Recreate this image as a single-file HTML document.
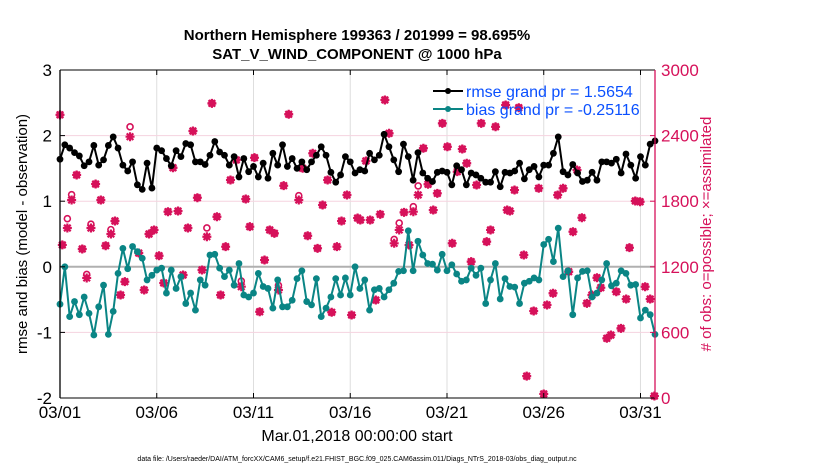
<!DOCTYPE html>
<html><head><meta charset="utf-8"><style>
body{margin:0;background:#fff;width:830px;height:470px;overflow:hidden}
svg{display:block;font-family:"Liberation Sans",Arial,sans-serif}
</style></head><body>
<svg id="chart" width="830" height="470" viewBox="0 0 830 470">
<g id="grid"></g>
<g id="obs"></g>
<g id="series"></g>
<g id="axes"></g>
<text x="357" y="40" text-anchor="middle" font-size="15" font-weight="bold">Northern Hemisphere 199363 / 201999 = 98.695%</text>
<text x="357" y="59" text-anchor="middle" font-size="15" font-weight="bold">SAT_V_WIND_COMPONENT @ 1000 hPa</text>
<text transform="translate(27,234) rotate(-90)" text-anchor="middle" font-size="15">rmse and bias (model - observation)</text>
<text transform="translate(711,234) rotate(-90)" text-anchor="middle" font-size="15" fill="#d6115a"># of obs: o=possible; ×=assimilated</text>
<text x="357" y="441" text-anchor="middle" font-size="16">Mar.01,2018 00:00:00 start</text>
<text x="357" y="461" text-anchor="middle" font-size="7">data file: /Users/raeder/DAI/ATM_forcXX/CAM6_setup/f.e21.FHIST_BGC.f09_025.CAM6assim.011/Diags_NTrS_2018-03/obs_diag_output.nc</text>
<g>
<line x1="433" y1="91" x2="463" y2="91" stroke="#000" stroke-width="2"/><circle cx="448" cy="91" r="3" fill="#000"/>
<text x="466" y="97" font-size="16" fill="#0a50ff">rmse grand pr = 1.5654</text>
<line x1="433" y1="109" x2="463" y2="109" stroke="#0a8585" stroke-width="2"/><circle cx="448" cy="109" r="3" fill="#0a8585"/>
<text x="466" y="115" font-size="16" fill="#0a50ff">bias grand pr = -0.25116</text>
</g>
</svg>
<script>
const xTickLabels=["03/01","03/06","03/11","03/16","03/21","03/26","03/31"];
const xTickDays=[0,5,10,15,20,25,30];
const leftTicks=[3,2,1,0,-1,-2];
const rightTicks=[0,600,1200,1800,2400,3000];
const rmse=[1.64,1.86,1.81,1.74,1.69,1.54,1.60,1.85,1.55,1.63,1.85,1.98,1.81,1.55,1.46,1.60,1.25,1.18,1.58,1.20,1.81,1.77,1.65,1.54,1.77,1.68,1.88,1.86,1.60,1.60,1.56,1.70,
1.91,1.75,1.70,1.55,1.68,1.37,1.65,1.45,1.53,1.37,1.58,1.35,1.73,1.55,1.86,1.53,1.65,1.50,1.60,1.48,1.60,1.70,1.83,1.70,1.44,1.29,1.40,1.68,1.60,1.43,1.48,
1.46,1.73,1.63,1.70,2.02,1.83,1.63,1.45,1.87,1.68,1.32,1.74,1.43,1.35,1.30,1.44,1.46,1.44,1.25,1.54,1.48,1.25,1.43,1.40,1.35,1.29,1.29,1.45,1.22,1.44,
1.43,1.46,1.58,1.34,1.48,1.53,1.37,1.55,1.55,1.73,1.98,1.45,1.40,1.56,1.43,1.30,1.32,1.44,1.32,1.60,1.60,1.58,1.64,1.43,1.72,1.55,1.35,1.68,1.55,1.87,1.92];
const bias=[-0.57,0.0,-0.76,-0.53,-0.73,-0.46,-0.71,-1.04,-0.61,-0.28,-1.03,-0.68,-0.10,0.28,-0.03,0.31,0.23,0.13,-0.20,-0.13,-0.05,-0.02,-0.40,-0.05,-0.33,-0.15,-0.56,-0.40,-0.66,-0.20,-0.28,0.18,
0.19,-0.02,-0.15,-0.05,-0.28,0.05,-0.43,-0.46,-0.40,-0.10,-0.30,-0.33,-0.63,-0.20,-0.61,-0.61,-0.51,-0.18,-0.06,-0.53,-0.58,-0.18,-0.76,-0.63,-0.46,-0.18,-0.43,-0.17,-0.43,0.0,-0.33,
-0.20,-0.66,-0.35,-0.33,-0.46,-0.35,-0.25,-0.07,-0.06,0.55,-0.06,0.39,0.18,0.05,0.04,-0.05,0.19,-0.06,0.03,-0.11,-0.22,-0.20,-0.02,-0.13,-0.02,-0.56,-0.20,0.05,-0.49,-0.18,-0.30,
-0.31,-0.56,-0.25,-0.22,-0.17,-0.20,0.34,0.42,0.08,0.59,-0.15,-0.06,-0.73,-0.17,-0.07,-0.06,-0.46,-0.40,-0.20,0.05,-0.29,-0.25,-0.06,-0.10,-0.28,-0.27,-0.78,-0.66,-0.73,-1.03];
const obsDay=[0,0.12,0.38,0.6,0.86,1.15,1.38,1.6,1.84,2.11,2.36,2.63,2.84,3.13,3.35,3.62,4.07,4.35,4.6,4.86,5.12,5.36,5.58,5.84,6.1,6.36,6.61,6.87,7.1,7.34,7.59,7.85,8.11,8.3,8.56,8.81,9.11,9.37,9.6,9.81,10.05,10.32,10.57,10.84,11.08,11.29,11.56,11.82,12.34,12.54,12.8,13.06,13.31,13.57,13.83,14.04,14.31,14.55,14.83,15.07,15.38,15.52,15.81,16.03,16.32,16.55,16.79,17.01,17.27,17.53,17.78,18.04,18.26,18.51,18.78,19.02,19.29,19.5,19.76,20.02,20.27,20.53,20.79,21.02,21.25,21.53,21.77,22.05,22.25,22.51,23.03,23.11,23.25,23.49,23.71,23.97,24.12,24.48,24.74,25.0,25.17,25.48,25.72,26.0,26.29,26.51,26.72,26.97,27.23,27.49,27.75,27.95,28.26,28.47,28.75,28.99,29.26,29.43,29.73,29.98,30.24,30.5,30.72];
const obsAssim=[2590,1400,1555,1811,2040,1363,1098,1555,1957,1811,1393,1500,1619,942,1064,2390,1326,988,1500,1537,1301,1052,1704,2106,1710,1125,1555,2442,1832,1171,1475,2695,1658,942,1384,1994,2177,1018,1820,1567,2198,789,1262,1537,1506,988,1942,2595,1811,2101,1484,2238,1369,1765,1994,784,1384,1619,1857,759,1646,1628,2168,1628,896,1680,2726,2421,1415,1537,1698,1399,1704,1857,2284,1955,1719,1872,2512,2298,1415,2070,2277,2147,1247,1948,2512,1430,1537,2481,2680,1719,1710,1902,2655,1308,200,796,1918,37,851,958,1857,1918,1155,1521,2085,1649,866,942,1100,1009,546,576,972,637,905,1375,1802,1795,1018,905,18];
const obsPossible=[2590,1400,1640,1860,2040,1363,1130,1590,1957,1811,1393,1540,1619,942,1064,2480,1326,988,1500,1537,1301,1052,1704,2106,1710,1125,1555,2442,1832,1171,1555,2695,1658,942,1384,1994,2177,1070,1820,1567,2198,789,1262,1537,1506,1030,1942,2595,1850,2101,1484,2238,1369,1765,1994,784,1384,1619,1857,759,1646,1628,2168,1628,896,1680,2726,2421,1450,1600,1698,1399,1750,1940,2284,1955,1719,1872,2512,2298,1415,2070,2277,2147,1247,1948,2512,1430,1537,2481,2680,1719,1710,1902,2655,1308,200,796,1918,37,851,958,1857,1918,1155,1521,2085,1649,866,942,1100,1009,546,576,972,637,905,1375,1802,1795,1018,905,18];

const NS="http://www.w3.org/2000/svg";
const X0=60,X1=655,Y0=70,Y1=398,DMAX=30.75;
function xs(d){return X0+d*(X1-X0)/DMAX;}
function yl(v){return Y1-(v+2)*(Y1-Y0)/5;}
function yr(c){return Y1-c*(Y1-Y0)/3000;}
function mk(tag,attrs,parent){const e=document.createElementNS(NS,tag);for(const k in attrs)e.setAttribute(k,attrs[k]);parent.appendChild(e);return e;}
const grid=document.getElementById('grid'),axes=document.getElementById('axes'),obs=document.getElementById('obs'),ser=document.getElementById('series');
const RED="#d6115a",TEAL="#0a8585";
xTickDays.forEach((d,i)=>{
  const x=xs(d);
  let g=mk('line',{x1:x,y1:Y0,x2:x,y2:Y1,stroke:"#dedede","stroke-width":1},grid);
  
  
  mk('line',{x1:x,y1:Y1,x2:x,y2:Y1-5,stroke:"#000"},axes);
  mk('line',{x1:x,y1:Y0,x2:x,y2:Y0+5,stroke:"#000"},axes);
  const t=mk('text',{x:x,y:418,"text-anchor":"middle","font-size":"17"},axes);
  t.textContent=xTickLabels[i];
  
  
});
rightTicks.forEach(c=>{
  const y=yr(c);
  if(c>0&&c<3000){const g=mk('line',{x1:X0,y1:y,x2:X1,y2:y,stroke:"#f5d3df","stroke-width":1},grid);
  
  }
  mk('line',{x1:X1,y1:y,x2:X1-5,y2:y,stroke:RED},axes);
  const t=mk('text',{x:661,y:y+6,"font-size":"17",fill:RED},axes);
  t.textContent=c;
  
  
});
const zl=mk('line',{x1:X0,y1:yl(0),x2:X1,y2:yl(0),stroke:"#b0b0b0","stroke-width":2},grid);


leftTicks.forEach(v=>{
  const y=yl(v);
  mk('line',{x1:X0,y1:y,x2:X0+5,y2:y,stroke:"#000"},axes);
  const t=mk('text',{x:52,y:y+6,"font-size":"17","text-anchor":"end"},axes);
  t.textContent=v;
  
  
});
mk('line',{x1:X0,y1:Y0,x2:X1,y2:Y0,stroke:"#000"},axes);
mk('line',{x1:X0,y1:Y1,x2:X1,y2:Y1,stroke:"#000"},axes);
mk('line',{x1:X0,y1:Y0,x2:X0,y2:Y1,stroke:"#000","stroke-width":1.3},axes);
mk('line',{x1:X1,y1:Y0,x2:X1,y2:Y1,stroke:RED,"stroke-width":1.3},axes);
obsDay.forEach((d,i)=>{
  const x=xs(d),ya=yr(obsAssim[i]),yp=yr(obsPossible[i]);
  const c=mk('circle',{cx:x,cy:yp,r:3,fill:"none",stroke:RED,"stroke-width":1.6},obs);
  
  
  const p=mk('path',{d:`M${x-4.5},${ya}H${x+4.5}M${x},${ya-4.5}V${ya+4.5}M${x-3.3},${ya-3.3}L${x+3.3},${ya+3.3}M${x-3.3},${ya+3.3}L${x+3.3},${ya-3.3}`,stroke:RED,"stroke-width":2.2},obs);
  
  
});
function series(vals,color,name){
  const pts=vals.map((v,i)=>[xs(i*0.25),yl(v)]);
  const pl=mk('polyline',{points:pts.map(p=>p.join(',')).join(' '),fill:"none",stroke:color,"stroke-width":2},ser);
  
  
  pts.forEach(p=>{const c=mk('circle',{cx:p[0],cy:p[1],r:3.4,fill:color},ser);
  
  });
}
series(bias,TEAL,'bias');
series(rmse,"#000",'rmse');
</script>
</body></html>
